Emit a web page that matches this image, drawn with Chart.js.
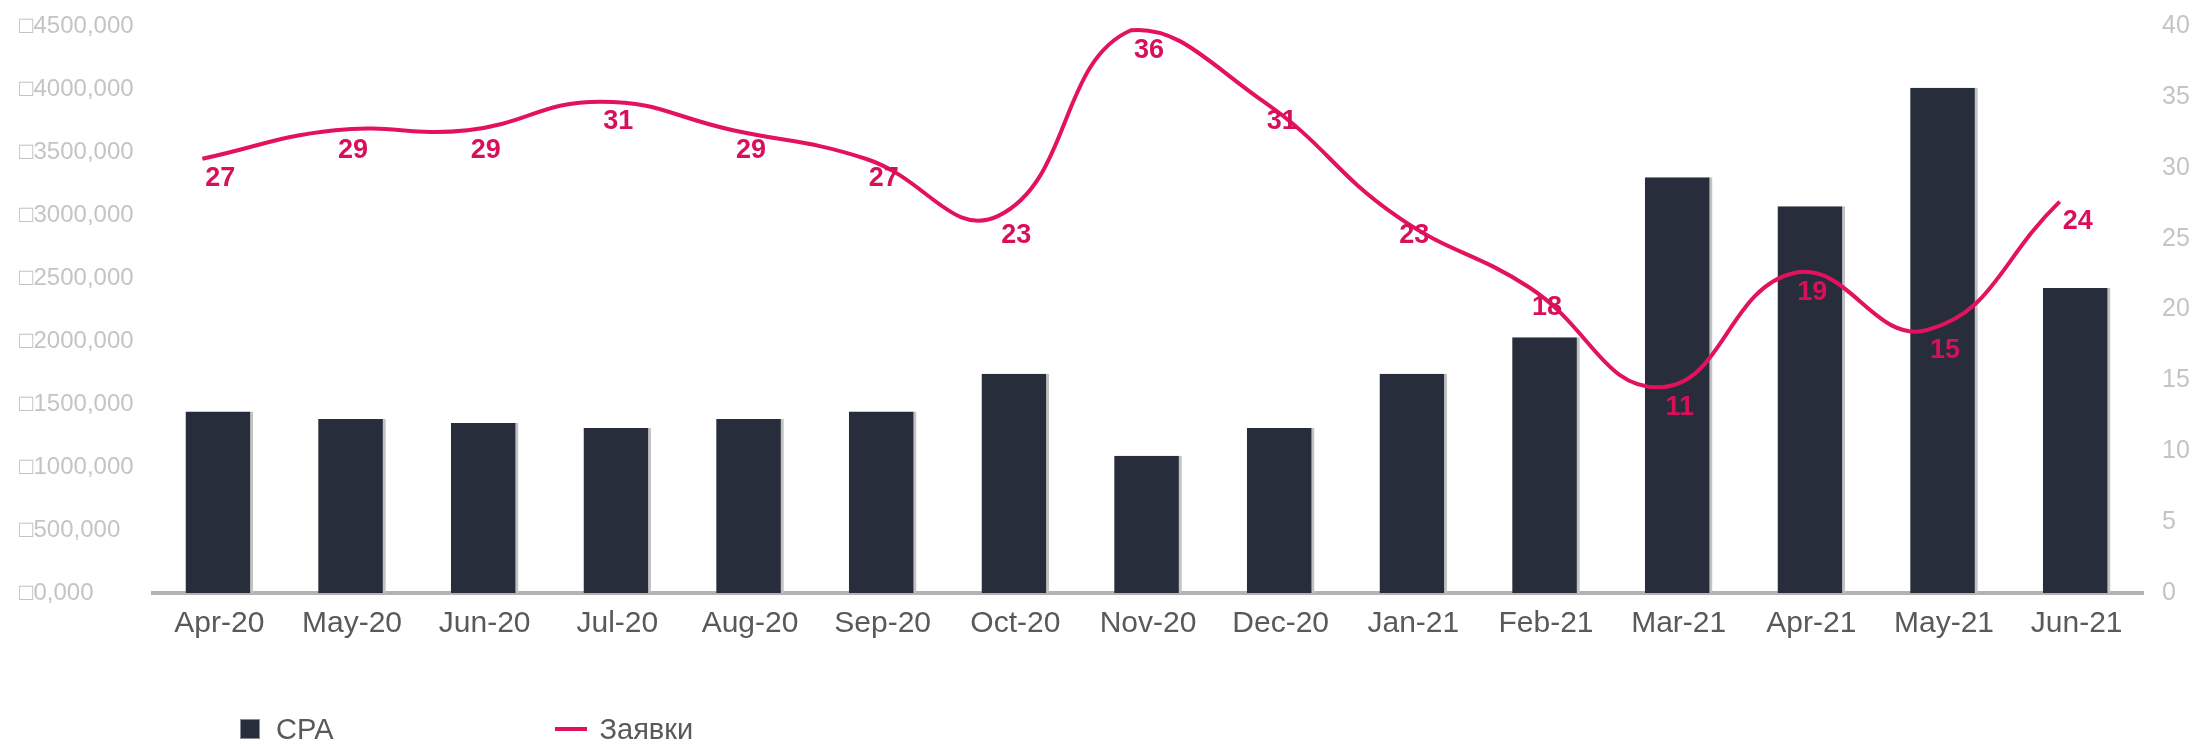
<!DOCTYPE html>
<html>
<head>
<meta charset="utf-8">
<script src="https://cdn.jsdelivr.net/npm/chart.js@4"></script>
<style>
  body { margin: 0; background: #fff; }
  #wrap { position: relative; width: 2198px; height: 744px; }
  #legend { position: absolute; left: 240px; top: 711px; height: 36px; display: flex; align-items: center;
            font-family: "Liberation Sans", Arial, sans-serif; font-size: 29px; color: #595959; }
  #legend .item { display: flex; align-items: center; }
  #legend .sq { width: 20px; height: 20px; border: 1px solid #8a8d94; margin-right: 16px; box-sizing: border-box; }
  #legend .ln { width: 32px; height: 4px; margin-right: 12px; }
</style>
</head>
<body>
<div id="wrap">
  <canvas id="chart" width="2198" height="744"></canvas>
  <div id="legend"></div>
</div>
<script>
const months = ["Apr-20", "May-20", "Jun-20", "Jul-20", "Aug-20", "Sep-20", "Oct-20", "Nov-20",
  "Dec-20", "Jan-21", "Feb-21", "Mar-21", "Apr-21", "May-21", "Jun-21"];
const cpa = [1440000, 1380000, 1350000, 1310000, 1380000, 1440000, 1740000, 1090000,
  1310000, 1740000, 2030000, 3300000, 3070000, 4010000, 2420000];
const zayavki = [27, 29, 29, 31, 29, 27, 23, 36, 31, 23, 18, 11, 19, 15, 24];
const cpaTicks = ["□0,000", "□500,000", "□1000,000", "□1500,000", "□2000,000",
  "□2500,000", "□3000,000", "□3500,000", "□4000,000", "□4500,000"];
const rightTicks = ["0", "5", "10", "15", "20", "25", "30", "35", "40"];

const barColor = "#272d3b";
const lineColor = "#e2125f";

// value labels under the line points
const pointLabels = {
  id: "pointLabels",
  afterDatasetsDraw(chart) {
    const meta = chart.getDatasetMeta(1);
    const c = chart.ctx;
    c.save();
    c.font = "bold 27px 'Liberation Sans', Arial, sans-serif";
    c.fillStyle = "#d8105a";
    c.textAlign = "center";
    c.textBaseline = "middle";
    meta.data.forEach((pt, i) => {
      c.fillText(String(zayavki[i]), pt.x + 18, pt.y + 20);
    });
    c.restore();
  }
};

const ctx = document.getElementById("chart");
const chart = new Chart(ctx, {
  type: "bar",
  data: {
    labels: months,
    datasets: [
      {
        label: "CPA",
        data: cpa,
        backgroundColor: barColor,
        borderColor: "#c2c2c2",
        borderWidth: { right: 3, left: 0, top: 0, bottom: 0 },
        borderSkipped: false,
        grouped: false,
        barPercentage: 1,
        categoryPercentage: 0.51,
        yAxisID: "y",
        order: 2,
      },
      {
        type: "line",
        label: "Заявки",
        data: zayavki.map((v, i) => ({ x: i, y: v })),
        borderColor: lineColor,
        borderWidth: 4,
        pointRadius: 0,
        tension: 0.45,
        fill: false,
        xAxisID: "xLine",
        yAxisID: "yLine",
        order: 1,
      },
    ],
  },
  options: {
    responsive: false,
    animation: false,
    devicePixelRatio: 1,
    layout: { padding: { top: 25, left: 19, right: 0, bottom: 0 } },
    plugins: { legend: { display: false }, tooltip: { enabled: false } },
    scales: {
      x: {
        grid: { display: false },
        border: { display: true, color: "#b3b3b3", width: 4 },
        ticks: {
          color: "#595959",
          padding: 5,
          maxRotation: 0,
          font: { family: "'Liberation Sans', Arial, sans-serif", size: 30 },
        },
        afterFit: (s) => { s.height = 151; },
      },
      xLine: {
        type: "linear",
        display: false,
        offset: false,
        min: -0.372,
        max: 14.628,
      },
      y: {
        position: "left",
        min: 0,
        max: 4500000,
        grid: { display: false },
        border: { display: false },
        ticks: {
          stepSize: 500000,
          crossAlign: "far",
          color: "#c4c4c4",
          font: { family: "'Liberation Sans', Arial, sans-serif", size: 24 },
          callback: (v, i) => cpaTicks[i],
        },
        afterFit: (s) => { s.width = 134; },
      },
      yLine: {
        position: "right",
        display: false,
        min: -3.42,
        max: 36.3,
      },
      yR: {
        position: "right",
        min: 0,
        max: 40,
        grid: { display: false },
        border: { display: false },
        ticks: {
          stepSize: 5,
          padding: 11,
          color: "#c4c4c4",
          font: { family: "'Liberation Sans', Arial, sans-serif", size: 25 },
          callback: (v, i) => rightTicks[i],
        },
        afterFit: (s) => { s.width = 55; },
      },
    },
  },
  plugins: [pointLabels],
});

// legend built from the datasets
const legend = document.getElementById("legend");
chart.data.datasets.forEach((ds, i) => {
  const item = document.createElement("div");
  item.className = "item";
  if (i > 0) item.style.marginLeft = "222px";
  const mark = document.createElement("span");
  if (ds.type === "line") {
    mark.className = "ln";
    mark.style.background = ds.borderColor;
  } else {
    mark.className = "sq";
    mark.style.background = ds.backgroundColor;
  }
  const txt = document.createElement("span");
  txt.textContent = ds.label;
  item.appendChild(mark);
  item.appendChild(txt);
  legend.appendChild(item);
});
</script>
</body>
</html>
